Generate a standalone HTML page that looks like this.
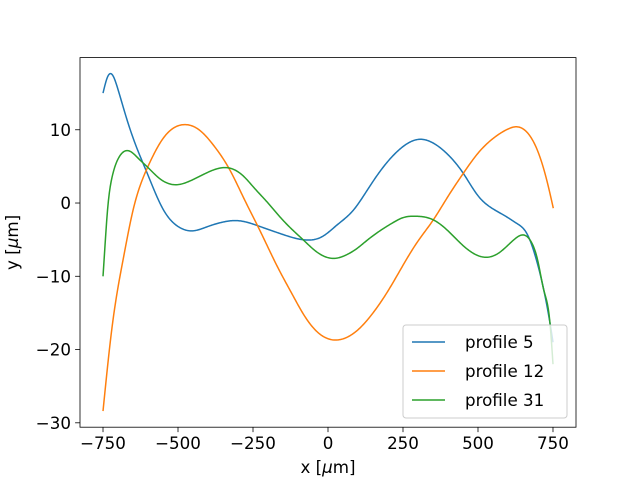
<!DOCTYPE html>
<html><head><meta charset="utf-8"><style>
body{margin:0;background:#fff}
svg{display:block;font-family:"DejaVu Sans","Liberation Sans",sans-serif}
</style></head><body>
<svg id="chart" width="640" height="480" viewBox="0 0 640 480" xmlns="http://www.w3.org/2000/svg">
<rect x="0" y="0" width="640" height="480" fill="#fff"/>
<g id="plot"></g>
</svg>
<script>
const xTicks=[-750,-500,-250,0,250,500,750];
const yTicks=[-30,-20,-10,0,10];
const seriesNames=["profile 5","profile 12","profile 31"];
const seriesColors=["#1f77b4","#ff7f0e","#2ca02c"];
const xs5=[-750,-735,-721,-700,-671,-640,-604,-549,-500,-454,-400,-350,-304,-227,-150,-71,-20,30,84,130,173,220,260,306,350,400,451,500,550,596,630,662,695,720,740,750];
const ys5=[15,17.2,17.6,15.5,11.5,7.8,4.2,-0.9,-3.2,-3.8,-3.2,-2.6,-2.4,-3.2,-4.3,-5.05,-4.6,-3.0,-1.0,1.7,4.3,6.6,8.0,8.7,8.2,6.6,4.05,1,-0.8,-1.9,-2.8,-4.1,-7.8,-12,-16.4,-19];
const xs12=[-750,-720,-682,-650,-600,-550,-480,-430,-380,-327,-280,-230,-166,-120,-80,-30,45,100,150,200,250,300,351,400,451,500,550,600,623,660,700,730,751];
const ys12=[-28.4,-17,-7.5,-1,5,8.8,10.7,10,7.8,4.5,0.6,-3.5,-8.9,-12.4,-15.3,-17.8,-18.6,-17.3,-15,-12,-8.5,-5.2,-2.3,0.9,4.05,6.8,8.8,10.1,10.4,9.8,7,3,-0.7];
const xs31=[-750,-746,-735,-720,-700,-662,-630,-604,-560,-504,-450,-400,-332,-280,-249,-200,-160,-120,-82,-40,23,60,100,130,173,220,250,290,351,400,450,523,570,620,656,680,700,720,740,750];
const ys31=[-10,-7.5,-1,3.5,6,7.1,6,5,3.3,2.5,3.2,4.2,4.8,3.6,2.2,0,-1.9,-3.6,-5.05,-6.6,-7.55,-7.1,-6.1,-5.1,-3.8,-2.6,-2.0,-1.8,-2.3,-3.8,-5.8,-7.4,-6.8,-5,-4.4,-5.5,-8,-12,-16.4,-22];
const seriesX=[xs5,xs12,xs31], seriesY=[ys5,ys12,ys31];

const L=80,R=576,T=57.6,B=427.2,XMIN=-826.7,XMAX=826.7,YMIN=-30.6,YMAX=19.85;
const sx=v=>L+(v-XMIN)/(XMAX-XMIN)*(R-L);
const sy=v=>B-(v-YMIN)/(YMAX-YMIN)*(B-T);
const NS="http://www.w3.org/2000/svg";
const g=document.getElementById('plot');
function mk(tag,attrs,parent){const e=document.createElementNS(NS,tag);for(const k in attrs)e.setAttribute(k,attrs[k]);(parent||g).appendChild(e);return e;}
function spline(xs,ys){
  const n=xs.length,h=[],a=[],l=[1],mu=[0],z=[0],c=new Array(n).fill(0),b=[],d=[];
  for(let i=0;i<n-1;i++)h[i]=xs[i+1]-xs[i];
  for(let i=1;i<n-1;i++)a[i]=3/h[i]*(ys[i+1]-ys[i])-3/h[i-1]*(ys[i]-ys[i-1]);
  for(let i=1;i<n-1;i++){l[i]=2*(xs[i+1]-xs[i-1])-h[i-1]*mu[i-1];mu[i]=h[i]/l[i];z[i]=(a[i]-h[i-1]*z[i-1])/l[i];}
  for(let j=n-2;j>=1;j--){c[j]=z[j]-mu[j]*c[j+1];}
  c[0]=0;for(let j=0;j<n-1;j++){b[j]=(ys[j+1]-ys[j])/h[j]-h[j]*(c[j+1]+2*c[j])/3;d[j]=(c[j+1]-c[j])/(3*h[j]);}
  const pts=[];
  for(let j=0;j<n-1;j++){const steps=Math.max(2,Math.ceil(h[j]/3));for(let s=0;s<steps;s++){const t=h[j]*s/steps;pts.push([xs[j]+t,ys[j]+b[j]*t+c[j]*t*t+d[j]*t*t*t]);}}
  pts.push([xs[n-1],ys[n-1]]);
  return pts;
}
for(let s=0;s<3;s++){
  const pts=spline(seriesX[s],seriesY[s]);
  const d='M'+pts.map(p=>sx(p[0]).toFixed(2)+','+sy(p[1]).toFixed(2)).join(' L');
  const p=mk('path',{d:d,fill:'none',stroke:seriesColors[s],'stroke-width':1.5,'stroke-linejoin':'round'});
  
  
}
const frame=mk('rect',{x:L,y:T,width:R-L,height:B-T,fill:'none',stroke:'#000','stroke-width':0.8});


xTicks.forEach(v=>{
  const x=sx(v);
  mk('line',{x1:x,y1:B,x2:x,y2:B+4.9,stroke:'#000','stroke-width':0.8});
  const t=mk('text',{x:x,y:B+22,'text-anchor':'middle','font-size':16.7});
  t.textContent=(v<0?'\u2212':'')+Math.abs(v);
  
  
});
yTicks.forEach(v=>{
  const y=sy(v);
  mk('line',{x1:L,y1:y,x2:L-4.9,y2:y,stroke:'#000','stroke-width':0.8});
  const t=mk('text',{x:L-9,y:y+6,'text-anchor':'end','font-size':16.7});
  t.textContent=(v<0?'\u2212':'')+Math.abs(v);
  
  
});
const xl=mk('text',{x:(L+R)/2,y:473,'text-anchor':'middle','font-size':16.7});
xl.innerHTML='x [<tspan font-style="italic">\u03bc</tspan>m]';


const yl=mk('text',{x:0,y:0,'text-anchor':'middle','font-size':16.7,transform:`translate(18,${(T+B)/2}) rotate(-90)`});
yl.innerHTML='y [<tspan font-style="italic">\u03bc</tspan>m]';



const lg=mk('g',{});


mk('rect',{x:403,y:325,width:164,height:93,rx:3,fill:'#fff','fill-opacity':0.8,stroke:'#ccc','stroke-width':1},lg);
[342,371,400].forEach((y,i)=>{
  const e=mk('g',{},lg);
  
  
  mk('line',{x1:412,y1:y,x2:445,y2:y,stroke:seriesColors[i],'stroke-width':1.5},e);
  const t=mk('text',{x:465,y:y+6,'font-size':16.7},e);
  t.textContent=seriesNames[i];
});
</script>
</body></html>
